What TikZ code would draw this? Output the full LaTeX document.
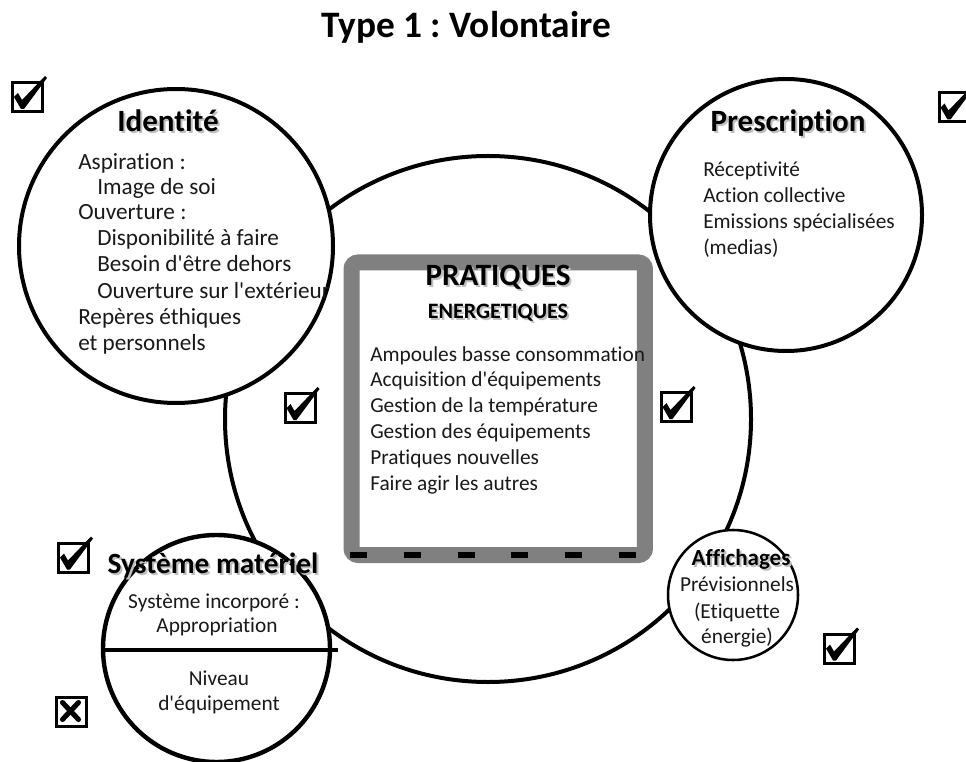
\documentclass[tikz,border=0pt]{standalone}
\usepackage{fontspec}
\setmainfont{Carlito}[Ligatures={NoCommon}]
\definecolor{boxgray}{HTML}{808080}
\tikzset{
  ring/.style={circle, draw=black, fill=white, line width=3pt, inner sep=0pt},
  txt/.style={font=\fontsize{16}{19}\selectfont, inner sep=0pt, text=black!90},
  ltxt/.style={txt, anchor=mid west},
  ctxt/.style={txt, anchor=mid},
  bigtxt/.style={ltxt, font=\fontsize{17.4}{20}\selectfont},
  cbox/.style={draw=black, line width=2.25pt, minimum width=22.5pt, minimum height=21.75pt, inner sep=0pt, fill=white},
  pratbox/.style={draw=boxgray, line width=12pt, rounded corners=5pt, fill=white, inner sep=0pt},
  dashline/.style={line width=4.5pt, dash pattern=on 12.75pt off 27.6pt},
}
\newcommand\hd[5]{%
  \node[inner sep=0pt, anchor=mid, text=black!25, font=\bfseries\fontsize{#4}{#4}\selectfont] (#1s) at (#2+2,#3+2.5) {#5};
  \node[inner sep=0pt, anchor=mid, text=black, font=\bfseries\fontsize{#4}{#4}\selectfont] (#1) at (#2,#3) {#5};}
\newcommand\ckmark[3]{%
  \node[cbox] (#1) at (#2,#3) {};
  \fill[shift={(#1.north west)}] (3,16) -- (7,12) -- (11,19) -- (34,-5) -- (36,-3) -- (13,28) -- (10,28) -- cycle;}
\newcommand\xmark[3]{%
  \node[cbox] (#1) at (#2,#3) {};
  \draw[shift={(#1.north west)}, line width=3.8pt, line cap=round] (8,7) -- (24,24) (24,7) -- (8,24);}
\begin{document}
\frenchspacing
\begin{tikzpicture}[x=0.75pt,y=-0.75pt]
\useasboundingbox[fill=white] (0,0) rectangle (966,762);
% title
\node[inner sep=0pt, font=\bfseries\fontsize{28}{32}\selectfont] (title) at (466,27) {Type 1 : Volontaire};
% circles
\node[ring, minimum size=394.5pt] (big) at (488,419) {};
\node[ring, minimum size=235.5pt] (ident) at (176,246) {};
\node[ring, minimum size=204pt] (presc) at (786,215) {};
\node[ring, minimum size=170.25pt, line width=3.3pt] (syst) at (216.5,648.5) {};
\node[ring, minimum size=97.5pt, line width=1.9pt] (affi) at (733,595) {};
% separator in Systeme
\coordinate (sysL) at (104,650);
\coordinate (sysR) at (338,650);
\draw[line width=3.4pt] (sysL) -- (sysR);
% practices box
\node[pratbox, minimum width=220.1pt, minimum height=219.4pt] (prat) at (498.25,408.75) {};
\coordinate (dA) at (350,555);
\coordinate (dB) at (637,555);
\draw[dashline] (dA) -- (dB);
% headings
\hd{hid}{168}{128}{23.25}{Identité}
\hd{hpr}{788}{128}{23.25}{Prescription}
\hd{hpa}{498}{282}{23.25}{PRATIQUES}
\hd{hen}{498}{315}{16.5}{ENERGETIQUES}
\hd{hsy}{213}{570}{22}{Système matériel}
\hd{haf}{741}{562}{17.25}{Affichages}
% Identite text
\node[bigtxt] (i1) at (78,166) {Aspiration :};
\node[bigtxt] (i2) at (97,191) {Image de soi};
\node[bigtxt] (i3) at (78,216) {Ouverture :};
\node[bigtxt] (i4) at (97,242) {Disponibilité à faire};
\node[bigtxt] (i5) at (97,268) {Besoin d\textquotesingle{}être dehors};
\node[bigtxt] (i6) at (97,295) {Ouverture sur l\textquotesingle{}extérieur};
\node[bigtxt] (i7) at (78,321) {Repères éthiques};
\node[bigtxt] (i8) at (78,347) {et personnels};
% Prescription text
\node[ltxt] (p1) at (703,173) {Réceptivité};
\node[ltxt] (p2) at (703,199) {Action collective};
\node[ltxt] (p3) at (703,225) {Emissions spécialisées};
\node[ltxt] (p4) at (703,251) {(medias)};
% Pratiques text
\node[ltxt] (r1) at (370,358) {Ampoules basse consommation};
\node[ltxt] (r2) at (370,383) {Acquisition d\textquotesingle{}équipements};
\node[ltxt] (r3) at (370,409) {Gestion de la température};
\node[ltxt] (r4) at (370,435) {Gestion des équipements};
\node[ltxt] (r5) at (370,461) {Pratiques nouvelles};
\node[ltxt] (r6) at (370,487) {Faire agir les autres};
% Systeme text
\node[ctxt] (s1) at (214,605) {Système incorporé :};
\node[ctxt] (s2) at (217,629) {Appropriation};
\node[ctxt] (s3) at (219,682) {Niveau};
\node[ctxt] (s4) at (219,707) {d\textquotesingle{}équipement};
% Affichages text
\node[ctxt] (a1) at (737,588) {Prévisionnels};
\node[ctxt] (a2) at (737,615) {(Etiquette};
\node[ctxt] (a3) at (737,640) {énergie)};
% check boxes
\ckmark{c1}{27.5}{97}
\ckmark{c2}{954}{107.5}
\ckmark{c3}{300}{408}
\ckmark{c4}{676}{407}
\ckmark{c5}{73.5}{557.5}
\ckmark{c6}{839.5}{648.5}
\xmark{x1}{71}{711.5}
\end{tikzpicture}
\end{document}
